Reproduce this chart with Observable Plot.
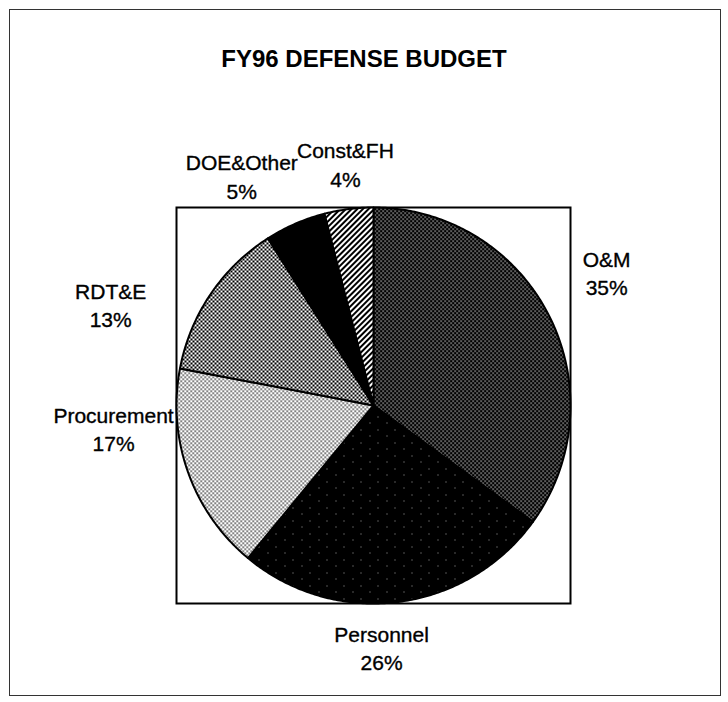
<!DOCTYPE html>
<html>
<head>
<meta charset="utf-8">
<script src="https://cdn.jsdelivr.net/npm/d3@7"></script>
<script src="https://cdn.jsdelivr.net/npm/@observablehq/plot@0.6"></script>
<style>
  html, body { margin: 0; padding: 0; background: #fff; }
  #page { position: relative; width: 728px; height: 702px; overflow: hidden; }
  #frame { position: absolute; left: 9px; top: 9px; width: 710px; height: 685px; border: 1.5px solid #333; }
  #title { position: absolute; left: 0; top: 47px; width: 728px; text-align: center;
           font: bold 24px/24px "Liberation Sans", Arial, sans-serif; color: #000; }
  #chart { position: absolute; left: 0; top: 100px; }
  #defs { position: absolute; width: 0; height: 0; }
</style>
</head>
<body>
<div id="page">
  <div id="frame"></div>
  <div id="title">FY96 DEFENSE BUDGET</div>
  <svg id="defs" width="0" height="0">
    <defs>
      <!-- O&M: dark, black with white dots -->
      <pattern id="pOM" patternUnits="userSpaceOnUse" width="4" height="4">
        <rect width="4" height="4" fill="#000"/>
        <rect x="0" y="0" width="1.2" height="1.2" fill="#fff"/>
        <rect x="2" y="2" width="1.2" height="1.2" fill="#fff"/>
      </pattern>
      <!-- Personnel: near-solid black with sparse specks -->
      <pattern id="pPers" patternUnits="userSpaceOnUse" width="17" height="13">
        <rect width="17" height="13" fill="#000"/>
        <rect x="3" y="4" width="0.8" height="0.8" fill="#fff"/>
        <rect x="12" y="10" width="0.8" height="0.8" fill="#fff"/>
      </pattern>
      <!-- Procurement: light dotted -->
      <pattern id="pProc" patternUnits="userSpaceOnUse" width="4" height="4">
        <rect width="4" height="4" fill="#fff"/>
        <rect x="0" y="0" width="1.4" height="1.4" fill="#000"/>
        <rect x="2" y="2" width="1.4" height="1.4" fill="#000"/>
      </pattern>
      <!-- RDT&E: medium checker -->
      <pattern id="pRDT" patternUnits="userSpaceOnUse" width="4" height="4">
        <rect width="4" height="4" fill="#fff"/>
        <rect x="0" y="0" width="2" height="2" fill="#000"/>
        <rect x="2" y="2" width="2" height="2" fill="#000"/>
      </pattern>
      <!-- DOE&Other: solid black -->
      <pattern id="pDOE" patternUnits="userSpaceOnUse" width="4" height="4">
        <rect width="4" height="4" fill="#000"/>
      </pattern>
      <!-- Const&FH: diagonal hatch -->
      <pattern id="pConst" patternUnits="userSpaceOnUse" width="4" height="4" patternTransform="rotate(45)">
        <rect width="4" height="4" fill="#fff"/>
        <rect x="0" y="0" width="2" height="4" fill="#000"/>
      </pattern>
    </defs>
  </svg>
  <div id="chart"></div>
</div>
<script>
// ---- Data ----
const categories = ["O&M", "Personnel", "Procurement", "RDT&E", "DOE&Other", "Const&FH"];
const shares = [35, 26, 17, 13, 5, 4];            // percent
const percentLabels = ["35%", "26%", "17%", "13%", "5%", "4%"];

// ---- Styles / layout (not data) ----
const patterns = {"O&M": "url(#pOM)", "Personnel": "url(#pPers)", "Procurement": "url(#pProc)",
                  "RDT&E": "url(#pRDT)", "DOE&Other": "url(#pDOE)", "Const&FH": "url(#pConst)"};
// label nudges in pixels relative to a radial position at 1.3 × radius
const labelNudge = {"O&M": [5, -17], "Personnel": [-24, -14], "Procurement": [-19, -65],
                    "RDT&E": [-51, 43], "DOE&Other": [-30, 6], "Const&FH": [4, 13]};

const W = 728, H = 590;
const mL = 176, mR = 158, mT = 107, mB = 87;
const pxX = 2 / (W - mL - mR), pxY = 2 / (H - mT - mB);

const table = categories.map((c, i) => ({name: c, value: shares[i], pct: percentLabels[i]}));
const arcs = d3.pie().sort(null).value(d => d.value).startAngle(0).endAngle(2 * Math.PI)(table);

// polygon vertices of each slice in unit-circle coordinates
const slicePts = [];
for (const a of arcs) {
  const n = Math.max(8, Math.ceil((a.endAngle - a.startAngle) / 0.01));
  slicePts.push({name: a.data.name, fill: patterns[a.data.name], x: 0, y: 0});
  for (let k = 0; k <= n; k++) {
    const t = a.startAngle + (a.endAngle - a.startAngle) * k / n;
    slicePts.push({name: a.data.name, fill: patterns[a.data.name], x: Math.sin(t), y: Math.cos(t)});
  }
  slicePts.push({name: a.data.name, fill: patterns[a.data.name], x: 0, y: 0});
}

const labels = arcs.map(a => {
  const m = (a.startAngle + a.endAngle) / 2;
  const [nx, ny] = labelNudge[a.data.name];
  return {
    text: a.data.name + "\n" + a.data.pct,
    x: 1.3 * Math.sin(m) + nx * pxX,
    y: 1.3 * Math.cos(m) - ny * pxY
  };
});

const chart = Plot.plot({
  width: W, height: H,
  marginLeft: mL, marginRight: mR, marginTop: mT, marginBottom: mB,
  x: {domain: [-1, 1], axis: null},
  y: {domain: [-1, 1], axis: null},
  color: {type: "identity"},
  style: {background: "transparent", overflow: "visible"},
  marks: [
    Plot.frame({stroke: "#000", strokeWidth: 2, fill: "#fff"}),
    Plot.line(slicePts, {x: "x", y: "y", z: "name", fill: "fill", stroke: "#000",
                         strokeWidth: 2, strokeLinejoin: "round", curve: "linear"}),
    Plot.text(labels, {x: "x", y: "y", text: "text", fontSize: 21, lineHeight: 1.36,
                       fontFamily: "Liberation Sans, Arial, sans-serif", fill: "#000",
                       stroke: "#000", strokeWidth: 0.35,
                       textAnchor: "middle", lineAnchor: "middle", clip: false})
  ]
});
document.getElementById("chart").appendChild(chart);
</script>
</body>
</html>
